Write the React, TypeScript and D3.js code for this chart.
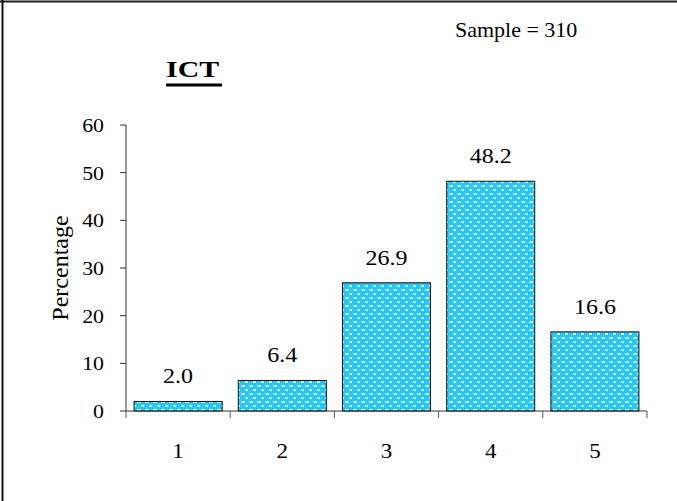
import React from "react";
import * as d3 from "d3";

const categories = ["1", "2", "3", "4", "5"];
const values = [2.0, 6.4, 26.9, 48.2, 16.6];
const yTicks = [0, 10, 20, 30, 40, 50, 60];

function SText(props: { x: number; y: number; size: number; sx: number; anchor?: string; bold?: boolean; children: React.ReactNode }) {
  const { x, y, size, sx, anchor, bold, children } = props;
  return (
    <text transform={`translate(${x},${y}) scale(${sx},1)`} fontSize={size} textAnchor={anchor || "start"} fontWeight={bold ? "bold" : "normal"}>
      {children}
    </text>
  );
}

export default function App() {
  const W = 677, H = 501;
  const left = 126, right = 647, top = 125, bottom = 411;
  const x = d3.scaleBand<string>().domain(categories).range([left, right]).paddingInner(0.155).paddingOuter(0.0775);
  const y = d3.scaleLinear().domain([0, 60]).range([bottom, top]);
  const font = "'Liberation Serif', 'Times New Roman', serif";
  const bandStep = (right - left) / categories.length;
  return (
    <svg width={W} height={H} style={{ position: "absolute", left: 0, top: 0 }} fontFamily={font}>
      <defs>
        <pattern id="dots" patternUnits="userSpaceOnUse" width={8} height={8}>
          <rect width={8} height={8} fill="#22c8fb" />
          <rect x={1} y={1} width={4} height={2} fill="#d0f4ff" />
          <rect x={5} y={5} width={4} height={2} fill="#d0f4ff" />
        </pattern>
      </defs>
      <rect width={W} height={H} fill="#fff" />
      <line x1={0} x2={W} y1={1.5} y2={1.5} stroke="#222" strokeWidth={2} />
      <line x1={2.5} x2={2.5} y1={0} y2={H} stroke="#111" strokeWidth={2} />
      <SText x={455} y={37} size={20} sx={1.1}>Sample = 310</SText>
      <SText x={166} y={77} size={23} sx={1.3} bold>ICT</SText>
      <line x1={166} x2={222} y1={85} y2={85} stroke="#000" strokeWidth={3} />
      {categories.map((c, i) => (
        <g key={c}>
          <rect x={x(c)!} y={y(values[i])} width={x.bandwidth()} height={bottom - y(values[i])} fill="url(#dots)" stroke="#111" strokeWidth={1} />
          <SText x={x(c)! + x.bandwidth() / 2} y={y(values[i]) - 18} size={20} sx={1.2} anchor="middle">{values[i].toFixed(1)}</SText>
        </g>
      ))}
      <line x1={left} x2={left} y1={top} y2={bottom} stroke="#333" />
      {yTicks.map(t => (
        <g key={t}>
          <line x1={left - 6} x2={left} y1={y(t)} y2={y(t)} stroke="#333" />
          <SText x={left - 22} y={y(t) + 7} size={19} sx={1.15} anchor="end">{t}</SText>
        </g>
      ))}
      <line x1={left} x2={right} y1={bottom} y2={bottom} stroke="#333" />
      {d3.range(categories.length + 1).map(i => (
        <line key={i} x1={left + i * bandStep} x2={left + i * bandStep} y1={bottom} y2={bottom + 7} stroke="#555" />
      ))}
      {categories.map((c, i) => (
        <SText key={c} x={left + (i + 0.5) * bandStep} y={458} size={20} sx={1.15} anchor="middle">{c}</SText>
      ))}
      <text transform={`translate(68,${(top + bottom) / 2}) rotate(-90)`} fontSize={24} textAnchor="middle">Percentage</text>
    </svg>
  );
}
